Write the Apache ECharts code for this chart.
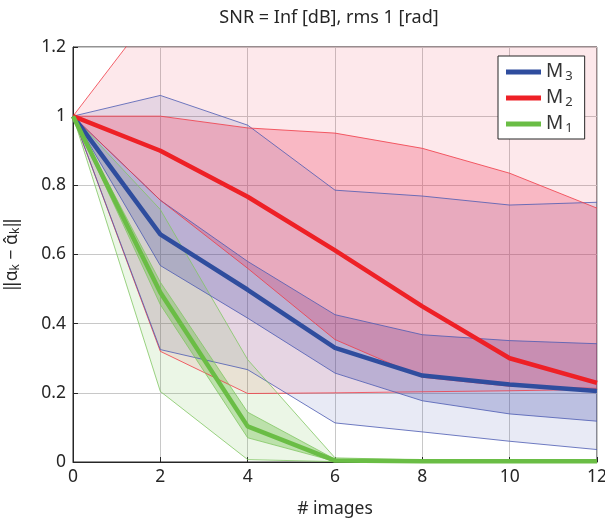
<!DOCTYPE html>
<html>
<head>
<meta charset="utf-8">
<script src="https://cdn.jsdelivr.net/npm/echarts@6/dist/echarts.min.js"></script>
<style>html,body{margin:0;padding:0;background:#fff}#c{width:605px;height:520px}</style>
</head>
<body>
<div id="c"></div>
<script>
// ---- data ----
const xImages = ['0', '2', '4', '6', '8', '10', '12'];
const yTickLabels = ['0', '0.2', '0.4', '0.6', '0.8', '1', '1.2'];

const m3Mean    = [1, 0.658, 0.498, 0.330, 0.250, 0.224, 0.205];
const m3InnerUp = [1, 0.757, 0.580, 0.426, 0.368, 0.351, 0.342];
const m3InnerLo = [1, 0.568, 0.416, 0.257, 0.177, 0.139, 0.118];
const m3OuterUp = [1, 1.060, 0.974, 0.786, 0.769, 0.743, 0.751];
const m3OuterLo = [1, 0.325, 0.267, 0.113, 0.087, 0.060, 0.036];

const m2Mean    = [1, 0.900, 0.767, 0.612, 0.450, 0.300, 0.229];
const m2InnerUp = [1, 1.000, 0.966, 0.951, 0.907, 0.835, 0.734];
const m2InnerLo = [1, 0.757, 0.560, 0.354, 0.245, 0.219, 0.213];
const m2OuterUp = [1, 1.330, 1.600, 1.750, 1.850, 1.900, 1.950];
const m2OuterLo = [1, 0.320, 0.198, 0.200, 0.203, 0.206, 0.210];

const m1Mean    = [1, 0.490, 0.103, 0.004, 0.002, 0.002, 0.002];
const m1InnerUp = [1, 0.520, 0.144, 0.008, 0.004, 0.004, 0.004];
const m1InnerLo = [1, 0.455, 0.070, 0.002, 0.001, 0.001, 0.001];
const m1OuterUp = [1, 0.730, 0.296, 0.012, 0.006, 0.006, 0.006];
const m1OuterLo = [1, 0.204, 0.007, 0.001, 0.000, 0.000, 0.000];

const seriesNames = ['M3', 'M2', 'M1'];

// ---- styling ----
const FONT = 'Noto Sans';
const C = {
  blue: '#2f4d9e', blueThin: '#4b5bb3',
  red: '#ee2026', redThin: '#f03a45',
  green: '#6abd45', greenThin: '#82c763'
};

function band(id, lo, up, fill, lineColor) {
  return [
    {
      type: 'line', stack: id, silent: true, symbol: 'none',
      data: lo.slice(),
      lineStyle: { color: lineColor, width: 0.8 }
    },
    {
      type: 'line', stack: id, silent: true, symbol: 'none',
      data: up.map((u, i) => u - lo[i]),
      lineStyle: { color: lineColor, width: 0.8 },
      areaStyle: { color: fill, opacity: 1 }
    }
  ];
}

function meanLine(name, vals, color) {
  return {
    type: 'line', name: name, silent: true, symbol: 'none',
    data: vals.slice(),
    lineStyle: { color: color, width: 4.5 },
    itemStyle: { color: color }
  };
}

const series = [].concat(
  band('r_out', m2OuterLo, m2OuterUp, 'rgba(238,30,55,0.10)', C.redThin),
  band('b_out', m3OuterLo, m3OuterUp, 'rgba(50,60,165,0.11)', C.blueThin),
  band('g_out', m1OuterLo, m1OuterUp, 'rgba(100,185,60,0.13)', C.greenThin),
  band('b_in', m3InnerLo, m3InnerUp, 'rgba(50,60,165,0.24)', C.blueThin),
  band('r_in', m2InnerLo, m2InnerUp, 'rgba(240,45,85,0.26)', C.redThin),
  band('g_in', m1InnerLo, m1InnerUp, 'rgba(100,185,60,0.35)', C.greenThin),
  [
    meanLine('M3', m3Mean, C.blue),
    meanLine('M2', m2Mean, C.red),
    meanLine('M1', m1Mean, C.green)
  ]
);

const chart = echarts.init(document.getElementById('c'), null, { renderer: 'canvas' });
chart.setOption({
  animation: false,
  backgroundColor: '#fff',
  textStyle: { fontFamily: FONT },
  title: {
    text: 'SNR = Inf [dB], rms 1 [rad]',
    left: 324, top: 4, textAlign: 'center',
    textStyle: { fontFamily: FONT, fontSize: 18, fontWeight: 'normal', color: '#262626' }
  },
  grid: {
    left: 73, right: 8, top: 47, bottom: 58,
    outerBoundsMode: 'none', containLabel: false,
    show: true, borderColor: '#262626', borderWidth: 1, backgroundColor: 'transparent'
  },
  legend: {
    data: seriesNames,
    orient: 'vertical', left: 498, top: 56,
    padding: [5, 12, 4, 8], itemGap: 4,
    itemWidth: 35, itemHeight: 5, itemTextGap: 7, icon: 'rect',
    borderColor: '#262626', borderWidth: 1, backgroundColor: '#fff', borderRadius: 0,
    formatter: n => 'M{s|' + n.slice(1) + '}',
    textStyle: {
      fontFamily: FONT, fontSize: 19, color: '#333', lineHeight: 21,
      rich: { s: { fontFamily: FONT, fontSize: 13, lineHeight: 13, padding: [9, 0, 0, 2], color: '#333' } }
    }
  },
  xAxis: {
    type: 'category', data: xImages, boundaryGap: false,
    name: '# images', nameLocation: 'middle', nameGap: 38,
    nameTextStyle: { fontFamily: FONT, fontSize: 17.5, color: '#262626' },
    axisLine: { show: true, onZero: false, lineStyle: { color: '#262626', width: 1 } },
    axisTick: { show: true, inside: true, length: 5, interval: 0, lineStyle: { color: '#262626' } },
    axisLabel: { interval: 0, margin: 6, fontFamily: FONT, fontSize: 17.5, color: '#262626' },
    splitLine: { show: true, interval: 0, lineStyle: { color: '#c8c8c8', width: 1 } }
  },
  yAxis: {
    type: 'value', min: 0, max: 1.2, interval: 0.2,
    name: '\u2016α{s|k} − α\u0302{s|k}\u2016', nameLocation: 'middle', nameGap: 51, nameRotate: 90,
    nameTextStyle: {
      fontFamily: FONT, fontSize: 17.5, color: '#262626', lineHeight: 19,
      rich: { s: { fontFamily: FONT, fontSize: 12, lineHeight: 12, padding: [7, 0, 0, 0], color: '#262626' } }
    },
    axisLine: { show: true, lineStyle: { color: '#262626', width: 1 } },
    axisTick: { show: true, inside: true, length: 5, lineStyle: { color: '#262626' } },
    axisLabel: {
      margin: 7, fontFamily: FONT, fontSize: 17.5, color: '#262626',
      formatter: v => yTickLabels[Math.round(v / 0.2)]
    },
    splitLine: { show: true, lineStyle: { color: '#c8c8c8', width: 1 } }
  },
  series: series
});
</script>
</body>
</html>
